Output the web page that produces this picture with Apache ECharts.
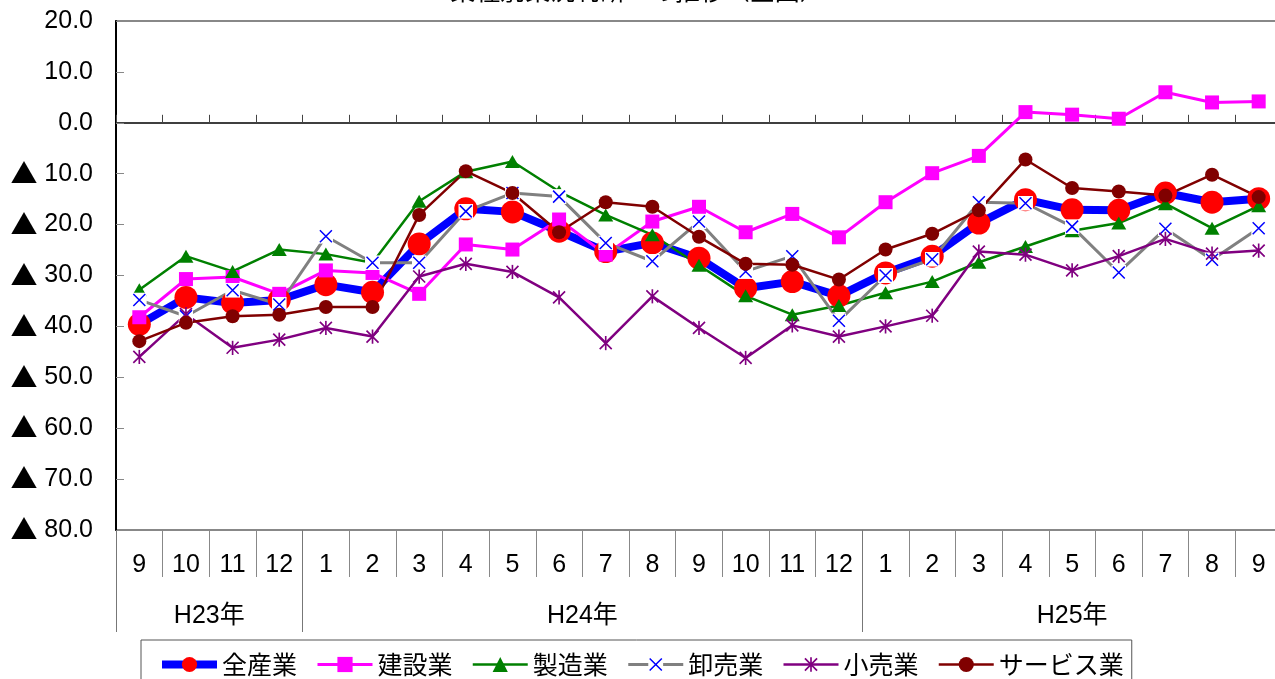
<!DOCTYPE html>
<html>
<head>
<meta charset="utf-8">
<script src="https://cdn.jsdelivr.net/npm/echarts@6/dist/echarts.min.js"></script>
<style>
  html, body { margin: 0; padding: 0; background: #fff; }
  #chart { width: 1275px; height: 679px; }
</style>
</head>
<body>
<div id="chart"></div>
<script>
// Months from H23/9 to H25/9
const months = ['9', '10', '11', '12', '1', '2', '3', '4', '5', '6', '7', '8', '9', '10', '11', '12', '1', '2', '3', '4', '5', '6', '7', '8', '9'];

// Year groups on the lower row of the category table
const yearLabels = ['H23年', 'H24年', 'H25年'];
const yearStarts = [0, 4, 16];
const yearSpans = [4, 12, 9];

// Business condition DI by industry (negative = ▲)
const allIndustries = [-39.6, -34.3, -35.4, -34.8, -31.8, -33.3, -23.8, -16.9, -17.5, -21.3, -25.3, -23.6, -26.6, -32.5, -31.2, -34.0, -29.5, -26.2, -19.7, -15.1, -17.1, -17.2, -13.8, -15.6, -14.9];
const construction = [-38.2, -30.7, -30.3, -33.6, -29.0, -29.5, -33.6, -23.9, -24.9, -19.0, -25.9, -19.4, -16.5, -21.5, -17.9, -22.5, -15.6, -9.9, -6.5, 2.1, 1.6, 0.8, 6.0, 4.0, 4.2];
const manufacturing = [-32.8, -26.2, -29.2, -24.9, -25.8, -27.5, -15.4, -9.6, -7.6, -13.5, -18.1, -22.0, -28.0, -34.0, -37.7, -35.9, -33.4, -31.2, -27.4, -24.3, -21.2, -19.7, -15.9, -20.7, -16.3];
const wholesale = [-34.8, -38.0, -32.9, -35.7, -22.3, -27.5, -27.5, -17.4, -13.8, -14.5, -23.6, -27.2, -19.4, -29.2, -26.2, -38.9, -30.0, -26.8, -15.6, -15.8, -20.4, -29.4, -20.8, -26.9, -20.7];
const retail = [-46.0, -37.6, -44.2, -42.6, -40.3, -42.0, -30.2, -27.7, -29.3, -34.3, -43.3, -34.1, -40.3, -46.2, -39.8, -42.0, -40.0, -37.9, -25.3, -25.9, -29.0, -26.2, -22.8, -25.7, -25.1];
const services = [-42.9, -39.3, -38.0, -37.7, -36.2, -36.2, -18.1, -9.5, -13.8, -21.5, -15.6, -16.5, -22.4, -27.7, -27.9, -30.8, -24.9, -21.8, -17.2, -7.2, -12.8, -13.5, -14.3, -10.2, -14.6];

const NUM_FONT = '"Liberation Sans", "Noto Sans CJK JP", sans-serif';
const CJK_FONT = '"Noto Sans CJK JP", "Liberation Sans", sans-serif';

function svgSymbol(svg) {
  return 'image://data:image/svg+xml;charset=utf-8,' + encodeURIComponent(svg);
}
// Blue cross on a white square
const crossSymbol = svgSymbol('<svg xmlns="http://www.w3.org/2000/svg" width="20" height="20" viewBox="0 0 20 20"><rect width="20" height="20" fill="#ffffff"/><path d="M2 2L18 18M18 2L2 18" stroke="#0000ff" stroke-width="2" fill="none"/></svg>');
// Purple asterisk (cross plus vertical bar)
const starSymbol = svgSymbol('<svg xmlns="http://www.w3.org/2000/svg" width="20" height="20" viewBox="0 0 20 20"><path d="M2 2L18 18M18 2L2 18M10 0.5V19.5" stroke="#800080" stroke-width="2.2" fill="none"/></svg>');

const yearCenters = yearStarts.map((s, i) => s + yearSpans[i] / 2);
const yearBounds = yearStarts.concat([yearStarts[yearStarts.length - 1] + yearSpans[yearSpans.length - 1]]);

const seriesDefs = [
  { name: '全産業', data: allIndustries, line: '#0000ff', width: 8, symbol: 'circle', size: 23, mark: '#ff0000' },
  { name: '建設業', data: construction, line: '#ff00ff', width: 3, symbol: 'rect', size: 14, mark: '#ff00ff' },
  { name: '製造業', data: manufacturing, line: '#008000', width: 2.5, symbol: 'triangle', size: [15, 13], mark: '#008000' },
  { name: '卸売業', data: wholesale, line: '#808080', width: 3, symbol: crossSymbol, size: 15, mark: '#0000ff' },
  { name: '小売業', data: retail, line: '#800080', width: 2.5, symbol: starSymbol, size: 15, mark: '#800080' },
  { name: 'サービス業', data: services, line: '#800000', width: 2.5, symbol: 'circle', size: 14, mark: '#800000' }
];

const chart = echarts.init(document.getElementById('chart'), null, { renderer: 'canvas' });

chart.setOption({
  animation: false,
  backgroundColor: '#ffffff',
  title: {
    text: '業種別業況判断DIの推移（全国）',
    left: 'center',
    top: -27,
    padding: 5,
    textStyle: { fontSize: 25, fontWeight: 'normal', color: '#000', fontFamily: CJK_FONT }
  },
  grid: {
    left: 116,
    top: 21,
    width: 1166,
    height: 509,
    show: true,
    borderColor: '#888',
    borderWidth: 2,
    backgroundColor: 'transparent',
    containLabel: false,
    outerBoundsMode: 'none'
  },
  legend: {
    left: 141,
    top: 640,
    orient: 'horizontal',
    padding: [12, 8, 12, 17],
    borderColor: '#555',
    borderWidth: 1,
    itemWidth: 55,
    itemHeight: 19,
    itemGap: 19,
    textStyle: { fontSize: 25, color: '#000', fontFamily: CJK_FONT },
    data: seriesDefs.map(d => ({
      name: d.name,
      lineStyle: { color: d.line, width: d.width }
    }))
  },
  xAxis: [
    {
      // zero line with small upward ticks
      type: 'category',
      data: months,
      position: 'bottom',
      boundaryGap: true,
      axisLine: { show: true, onZero: true, lineStyle: { color: '#000', width: 1.5 } },
      axisTick: { show: true, inside: true, length: 8, interval: 0, lineStyle: { color: '#444', width: 1 } },
      axisLabel: { show: false },
      splitLine: { show: false }
    },
    {
      // month row of the table
      type: 'category',
      data: months,
      position: 'bottom',
      boundaryGap: true,
      axisLine: { show: false, onZero: false },
      axisTick: { show: true, length: 47, interval: 0, lineStyle: { color: '#888', width: 1 } },
      axisLabel: { show: true, interval: 0, margin: 23, fontSize: 25, color: '#000', fontFamily: NUM_FONT },
      splitLine: { show: false }
    },
    {
      // year row of the table
      type: 'value',
      min: 0,
      max: yearBounds[yearBounds.length - 1],
      position: 'bottom',
      axisLine: { show: false, onZero: false },
      axisTick: { show: true, length: 102, customValues: yearBounds, lineStyle: { color: '#777', width: 1 } },
      axisLabel: {
        show: true,
        customValues: yearCenters,
        margin: 74,
        fontSize: 25,
        color: '#000',
        fontFamily: NUM_FONT,
        formatter: function (v) {
          const i = yearCenters.indexOf(v);
          return i >= 0 ? yearLabels[i] : '';
        }
      },
      splitLine: { show: false }
    }
  ],
  yAxis: {
    type: 'value',
    min: -80,
    max: 20,
    interval: 10,
    axisLine: { show: true, onZero: false, lineStyle: { color: '#000', width: 2 } },
    axisTick: { show: true, inside: true, length: 8, lineStyle: { color: '#888', width: 1 } },
    axisLabel: {
      margin: 23,
      fontSize: 25,
      color: '#000',
      fontFamily: NUM_FONT,
      formatter: function (v) {
        return v < 0 ? '{tri|▲} ' + Math.abs(v).toFixed(1) : v.toFixed(1);
      },
      rich: {
        tri: { fontSize: 27, color: '#000', fontFamily: CJK_FONT }
      }
    },
    splitLine: { show: false }
  },
  series: seriesDefs.map(d => ({
    name: d.name,
    type: 'line',
    data: d.data,
    xAxisIndex: 0,
    yAxisIndex: 0,
    symbol: d.symbol,
    symbolSize: d.size,
    showAllSymbol: true,
    lineStyle: { color: d.line, width: d.width },
    itemStyle: { color: d.mark, borderWidth: 0 },
    emphasis: { disabled: true },
    animation: false
  }))
});
</script>
</body>
</html>
